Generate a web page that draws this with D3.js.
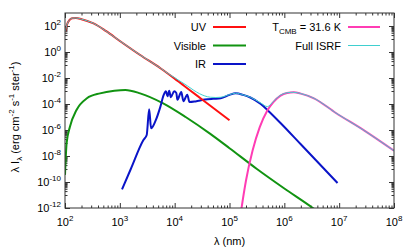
<!DOCTYPE html>
<html>
<head>
<meta charset="utf-8">
<script src="https://cdnjs.cloudflare.com/ajax/libs/d3/7.8.5/d3.min.js"></script>
<style>
  body { margin: 0; background: #fff; }
  text { font-family: "Liberation Sans", Arial, sans-serif; fill: #000; }
</style>
</head>
<body>
<div id="chart"></div>
<script>
// values, as [log10 lambda(nm), log10 lambda*I_lambda]
var uvData = [[2.0,1.55],[2.04,2.15],[2.08,2.45],[2.13,2.6],[2.2,2.62],[2.3,2.52],[2.52,2.2],[2.75,1.6],
  [3.0,0.85],[3.37,-0.23],[3.74,-1.25],[4.0,-2.05],[4.29,-2.98],[4.5,-3.65],[5.0,-5.25]];
var visData = [[2.0,-9.45],[2.03,-7.0],[2.09,-5.75],[2.21,-4.46],[2.4,-3.56],[2.64,-3.18],[2.9,-2.98],
  [3.1,-2.92],[3.37,-3.18],[3.79,-3.95],[4.2,-5.0],[4.65,-6.3],[5.0,-7.4],[5.5,-9.0],[6.0,-10.5],[6.52,-12.0],[6.6,-12.25]];
var irData = [[3.04,-10.56],[3.2,-9.0],[3.43,-6.77],[3.49,-6.38],[3.535,-4.41],[3.57,-5.87],[3.65,-5.3],
  [3.74,-4.2],[3.8,-3.3],[3.84,-3.02],[3.87,-3.41],[3.9,-2.98],[3.93,-3.48],[3.99,-3.02],[4.03,-3.15],
  [4.05,-3.67],[4.12,-3.08],[4.16,-3.79],[4.23,-3.28],[4.27,-3.85],[4.38,-3.8],[4.55,-3.66],[4.7,-3.6],
  [4.84,-3.56],[5.0,-3.3],[5.11,-3.18],[5.25,-3.3],[5.38,-3.5],[5.57,-4.0],[5.69,-4.46],[5.93,-5.46],
  [6.3,-7.1],[6.97,-10.08]];
var cmbData = [[5.18,-13.2],[5.22,-12.0],[5.3,-9.9],[5.42,-7.6],[5.55,-5.8],[5.69,-4.5],[5.8,-3.85],
  [5.93,-3.35],[6.05,-3.15],[6.17,-3.1],[6.3,-3.2],[6.54,-3.56],[6.94,-4.69],[7.46,-6.05],[8.0,-7.6]];
var fullData = [[2.0,1.55],[2.04,2.15],[2.08,2.45],[2.13,2.6],[2.2,2.62],[2.3,2.52],[2.52,2.2],[2.75,1.6],
  [3.0,0.85],[3.37,-0.23],[3.74,-1.24],[3.9,-1.72],[4.0,-1.98],[4.12,-2.3],[4.23,-2.6],[4.35,-2.95],
  [4.45,-3.2],[4.55,-3.38],[4.65,-3.48],[4.75,-3.5],[4.84,-3.48],[5.0,-3.28],[5.11,-3.17],[5.25,-3.3],
  [5.38,-3.48],[5.57,-3.92],[5.69,-4.2],[5.8,-3.8],[5.93,-3.32],[6.05,-3.14],[6.17,-3.1],[6.3,-3.2],
  [6.54,-3.56],[6.94,-4.69],[7.46,-6.05],[8.0,-7.6]];

var xTickExps = [2, 3, 4, 5, 6, 7, 8];
var yTickExps = [2, 0, -2, -4, -6, -8, -10, -12];

var series = [
  {name: "Visible", data: visData, color: "#119311", width: 2},
  {name: "IR", data: irData, color: "#0a14c8", width: 2},
  {name: "UV", data: uvData, color: "#ff1010", width: 2},
  {name: "CMB", data: cmbData, color: "#ff3cb4", width: 2},
  {name: "Full ISRF", data: fullData, color: "#3fcfcf", width: 1}
];

var W = 415, H = 249;
var margin = {top: 13, right: 21, bottom: 41, left: 65},
    width = W - margin.left - margin.right,
    height = H - margin.top - margin.bottom;

var x = d3.scaleLog().domain([1e2, 1e8]).range([0, width]);
var y = d3.scaleLog().domain([1e-12, 1e3]).range([height, 0]);

var svg = d3.select("#chart").append("svg")
    .attr("width", W)
    .attr("height", H);

var g = svg.append("g")
    .attr("transform", "translate(" + margin.left + "," + margin.top + ")");

g.append("clipPath").attr("id", "clip")
  .append("rect").attr("width", width).attr("height", height);

// minor tick values
var xMinor = [], yMinor = [];
for (var e = 2; e < 8; e++) for (var k = 2; k <= 9; k++) xMinor.push(k * Math.pow(10, e));
yTickExps.forEach(function(m) {
  for (var k = 1; k <= 9; k++) {
    var v = k * Math.pow(10, m - 1);
    if (v >= 1e-12 && v <= 1e3) yMinor.push(v);
  }
});
var xMajor = xTickExps.map(function(d) { return Math.pow(10, d); });
var yMajor = yTickExps.map(function(d) { return Math.pow(10, d); });

function tickAxis(axis, tr) {
  var a = g.append("g").attr("class", "axis")
    .attr("transform", tr)
    .call(axis);
  a.select(".domain").remove();
  a.selectAll("line").attr("stroke", "#333").attr("stroke-width", 1);
  a.selectAll("text").remove();
}

tickAxis(d3.axisBottom(x).tickValues(xMajor).tickSizeInner(-5).tickSizeOuter(0), "translate(0," + height + ")");
tickAxis(d3.axisBottom(x).tickValues(xMinor).tickSizeInner(-2.5).tickSizeOuter(0), "translate(0," + height + ")");
tickAxis(d3.axisTop(x).tickValues(xMajor).tickSizeInner(-5).tickSizeOuter(0), "translate(0,0)");
tickAxis(d3.axisTop(x).tickValues(xMinor).tickSizeInner(-2.5).tickSizeOuter(0), "translate(0,0)");
tickAxis(d3.axisLeft(y).tickValues(yMajor).tickSizeInner(-5).tickSizeOuter(0), "translate(0,0)");
tickAxis(d3.axisLeft(y).tickValues(yMinor).tickSizeInner(-2.5).tickSizeOuter(0), "translate(0,0)");
tickAxis(d3.axisRight(y).tickValues(yMajor).tickSizeInner(-5).tickSizeOuter(0), "translate(" + width + ",0)");
tickAxis(d3.axisRight(y).tickValues(yMinor).tickSizeInner(-2.5).tickSizeOuter(0), "translate(" + width + ",0)");

// curves
var line = d3.line()
    .x(function(d) { return x(Math.pow(10, d[0])); })
    .y(function(d) { return y(Math.pow(10, d[1])); })
    .curve(d3.curveMonotoneX);

var curves = g.append("g").attr("clip-path", "url(#clip)");
series.forEach(function(s) {
  curves.append("path")
    .datum(s.data)
    .attr("fill", "none")
    .attr("stroke", s.color)
    .attr("stroke-width", s.width)
    .attr("stroke-linejoin", "round")
    .attr("d", line);
});

// border
g.append("rect")
  .attr("width", width).attr("height", height)
  .attr("fill", "none").attr("stroke", "#333").attr("stroke-width", 1);

// x tick labels
xTickExps.forEach(function(d) {
  var t = g.append("text")
    .attr("x", x(Math.pow(10, d)))
    .attr("y", height + 18)
    .attr("text-anchor", "middle")
    .style("font-size", "11px");
  t.append("tspan").text("10");
  t.append("tspan").attr("dy", -5).style("font-size", "8px").text(d);
});

// y tick labels
yTickExps.forEach(function(d) {
  var t = g.append("text")
    .attr("x", -4)
    .attr("y", y(Math.pow(10, d)) + 4)
    .attr("text-anchor", "end")
    .style("font-size", "11px");
  t.append("tspan").text("10");
  t.append("tspan").attr("dy", -5).style("font-size", "8px").text(d);
});

// axis titles
g.append("text")
  .attr("x", width / 2)
  .attr("y", height + 37)
  .attr("text-anchor", "middle")
  .style("font-size", "11px")
  .text("\u03bb (nm)");

var yl = svg.append("text")
  .attr("text-anchor", "middle")
  .attr("transform", "translate(19,117) rotate(-90)")
  .style("font-size", "11px");
yl.append("tspan").text("\u03bb I");
yl.append("tspan").attr("dy", 3).style("font-size", "8px").text("\u03bb");
yl.append("tspan").attr("dy", -3).text(" (erg cm");
yl.append("tspan").attr("dy", -5).style("font-size", "8px").text("-2");
yl.append("tspan").attr("dy", 5).text(" s");
yl.append("tspan").attr("dy", -5).style("font-size", "8px").text("-1");
yl.append("tspan").attr("dy", 5).text(" ster");
yl.append("tspan").attr("dy", -5).style("font-size", "8px").text("-1");
yl.append("tspan").attr("dy", 5).text(")");

// legend
var legendItems = [
  {label: "UV", color: "#ff1010", width: 2, tx: 206, x1: 213, x2: 246, y: 27},
  {label: "Visible", color: "#119311", width: 2, tx: 206, x1: 213, x2: 246, y: 45.5},
  {label: "IR", color: "#0a14c8", width: 2, tx: 206, x1: 213, x2: 246, y: 64},
  {label: "CMB", color: "#ff3cb4", width: 2, tx: 341, x1: 348, x2: 380, y: 27},
  {label: "Full ISRF", color: "#3fcfcf", width: 1, tx: 341, x1: 348, x2: 380, y: 45.5}
];
legendItems.forEach(function(l) {
  var t = svg.append("text")
    .attr("x", l.tx).attr("y", l.y + 4)
    .attr("text-anchor", "end")
    .style("font-size", "11px");
  if (l.label === "CMB") {
    t.append("tspan").text("T");
    t.append("tspan").attr("dy", 3).style("font-size", "8px").text("CMB");
    t.append("tspan").attr("dy", -3).text(" = 31.6 K");
  } else {
    t.text(l.label);
  }
  svg.append("line")
    .attr("x1", l.x1).attr("x2", l.x2)
    .attr("y1", l.y).attr("y2", l.y)
    .attr("stroke", l.color).attr("stroke-width", l.width);
});
</script>
</body>
</html>
